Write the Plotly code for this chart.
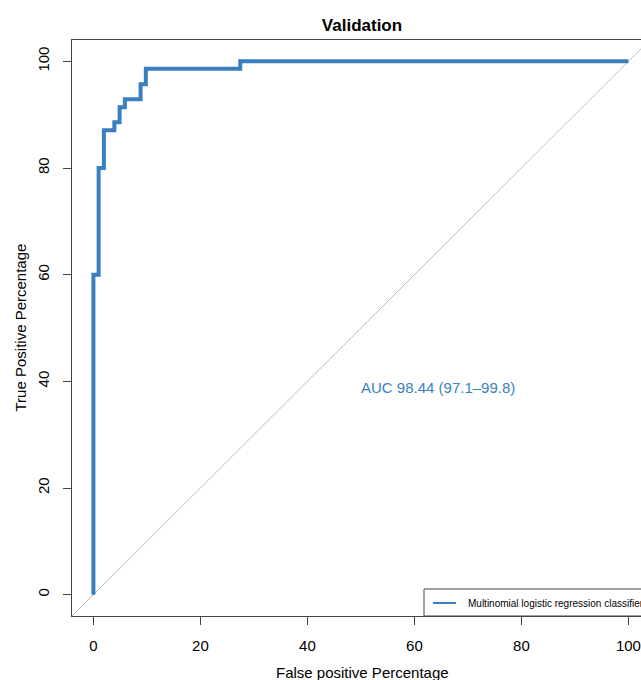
import plotly.graph_objects as go

# ROC curve step corners (False positive %, True positive %)
fpr = [0, 0, 0.98, 1.96, 3.92, 4.90, 5.88, 8.82, 9.80, 27.45, 100]
tpr = [0, 60.0, 80.0, 87.1, 88.6, 91.4, 92.9, 95.7, 98.6, 100, 100]

diag = [-10, 110]
x_ticks = [0, 20, 40, 60, 80, 100]
y_ticks = [0, 20, 40, 60, 80, 100]
auc_label = "AUC 98.44 (97.1\u201399.8)"
auc_pos = (64.5, 38.8)
legend_label = "Multinomial logistic regression classifier"

BLUE = "#3a7fbf"
FONT = "Liberation Sans, Arial, Helvetica, sans-serif"
W, H = 641, 680
ML, MT, MB = 72, 40, 64
PW = W - ML
PH = H - MT - MB

fig = go.Figure()
fig.add_trace(go.Scatter(x=diag, y=diag, mode="lines",
                         line=dict(color="#bebebe", width=1), hoverinfo="skip", showlegend=False))
fig.add_trace(go.Scatter(x=fpr, y=tpr, mode="lines", line_shape="hv",
                         line=dict(color=BLUE, width=4), showlegend=False))

fig.add_annotation(x=auc_pos[0], y=auc_pos[1], text=auc_label, showarrow=False,
                   font=dict(color=BLUE, size=15, family=FONT), xanchor="center", yanchor="middle")

# legend box (cropped at right edge like the reference)
lx0 = (424 - ML) / PW
ly1 = (616 - 589) / PH
ly = (616 - 603) / PH
fig.add_shape(type="rect", xref="paper", yref="paper", x0=lx0, x1=1.2, y0=0, y1=ly1,
              line=dict(color="#444444", width=1), fillcolor="white", layer="above")
fig.add_shape(type="line", xref="paper", yref="paper", x0=(433 - ML) / PW, x1=(456 - ML) / PW,
              y0=ly, y1=ly, line=dict(color=BLUE, width=2), layer="above")
fig.add_annotation(xref="paper", yref="paper", x=(465.5 - ML) / PW, y=ly, text=legend_label,
                   showarrow=False, xanchor="left", yanchor="middle",
                   font=dict(size=10, color="black", family=FONT))

# axis titles
fig.add_annotation(xref="paper", yref="paper", x=(362 - ML) / PW, y=-(672 - (H - MB)) / PH,
                   text="False positive Percentage", showarrow=False, xanchor="center", yanchor="middle",
                   font=dict(size=15, color="black", family=FONT))
fig.add_annotation(xref="paper", yref="paper", x=-(ML - 19.5) / PW, y=(H - MB - 328) / PH,
                   text="True Positive Percentage", showarrow=False, textangle=-90,
                   xanchor="center", yanchor="middle",
                   font=dict(size=15, color="black", family=FONT))

fig.update_layout(
    width=W, height=H,
    margin=dict(l=ML, r=0, t=MT, b=MB),
    paper_bgcolor="white", plot_bgcolor="white",
    font=dict(family=FONT, size=15, color="black"),
    title=dict(text="<b>Validation</b>", x=362 / W, xanchor="center", xref="paper" if False else "container",
               y=1 - 25 / H, yanchor="middle", font=dict(size=17, family=FONT, color="black")),
    xaxis=dict(range=[-4, -4 + PW / 5.35], tickvals=x_ticks, ticks="outside", ticklen=8,
               tickcolor="#444444", showline=True, linecolor="#444444", linewidth=1, mirror=True,
               showgrid=False, zeroline=False, ticklabelstandoff=8,
               tickfont=dict(size=15, family=FONT, color="black")),
    yaxis=dict(range=[-4, 104], tickvals=y_ticks, ticks="outside", ticklen=8,
               tickcolor="#444444", showline=True, linecolor="#444444", linewidth=1,
               showgrid=False, zeroline=False, tickangle=-90, ticklabelstandoff=8,
               tickfont=dict(size=15, family=FONT, color="black")),
)
fig.write_html("out.html")
